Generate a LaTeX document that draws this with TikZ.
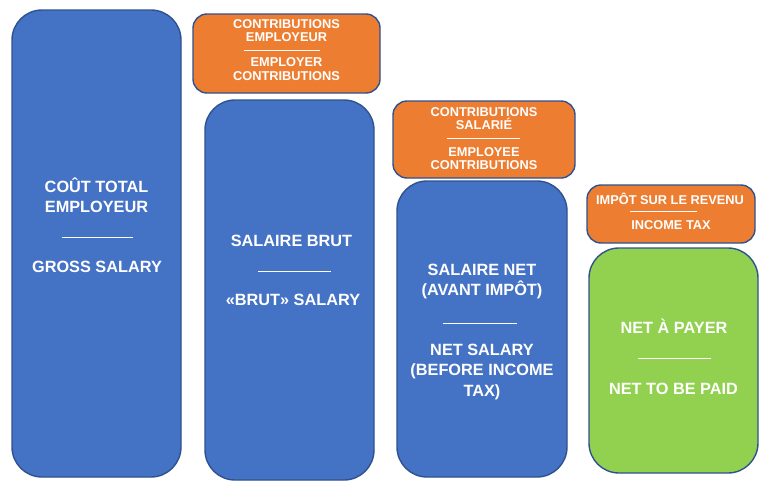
\documentclass[tikz,border=0pt]{standalone}
\usepackage{fontspec}
\setmainfont{Liberation Sans}
\definecolor{boxblue}{HTML}{4472C4}
\definecolor{boxorange}{HTML}{ED7D31}
\definecolor{boxgreen}{HTML}{92D050}
\definecolor{boxedge}{HTML}{2F528F}
\tikzset{
  panel/.style={draw=boxedge, line width=1.4pt, inner sep=0pt, outer sep=0pt},
  bigpanel/.style={panel, rounded corners=30pt},
  smallpanel/.style={panel, fill=boxorange, rounded corners=14pt},
  bigtxt/.style={text=white, font=\fontsize{16.3}{20}\selectfont\bfseries, anchor=base, inner sep=0pt},
  smalltxt/.style={text=white, font=\fontsize{12.8}{14}\selectfont\bfseries, anchor=base, inner sep=0pt},
  sepline/.style={draw=white, line width=1pt}
}
\begin{document}
\begin{tikzpicture}[x=1pt, y=-1pt]
\useasboundingbox (0,0) rectangle (768,498);
% panels
\node[bigpanel, fill=boxblue, minimum width=169pt, minimum height=467pt] (b1) at (96.5,243.5) {};
\node[smallpanel, minimum width=187pt, minimum height=79pt] (o1) at (286.5,53.5) {};
\node[bigpanel, fill=boxblue, minimum width=169pt, minimum height=380pt] (b2) at (289.5,290) {};
\node[smallpanel, minimum width=182pt, minimum height=77pt] (o2) at (484,139.5) {};
\node[bigpanel, fill=boxblue, minimum width=170pt, minimum height=296pt] (b3) at (482,329) {};
\node[smallpanel, minimum width=168pt, minimum height=58pt] (o3) at (671,214) {};
\node[bigpanel, fill=boxgreen, minimum width=169pt, minimum height=225pt] (g) at (673.5,360.5) {};
% box 1
\node[bigtxt] (b1a) at (96.5,192) {COÛT TOTAL};
\node[bigtxt] (b1b) at (96.5,212) {EMPLOYEUR};
\draw[sepline] (62,237) -- (133,237);
\node[bigtxt] (b1c) at (97,272) {GROSS SALARY};
% orange 1
\node[smalltxt] (o1a) at (286.5,28) {CONTRIBUTIONS};
\node[smalltxt] (o1b) at (286.5,41.5) {EMPLOYEUR};
\draw[sepline] (244,50) -- (320,50);
\node[smalltxt] (o1c) at (286.5,66.5) {EMPLOYER};
\node[smalltxt] (o1d) at (286.5,80) {CONTRIBUTIONS};
% box 2
\node[bigtxt] (b2a) at (291.5,246) {SALAIRE BRUT};
\draw[sepline] (258,271) -- (331,271);
\node[bigtxt] (b2b) at (293,305) {«BRUT» SALARY};
% orange 2
\node[smalltxt] (o2a) at (484,116.5) {CONTRIBUTIONS};
\node[smalltxt] (o2b) at (484,129.5) {SALARIÉ};
\draw[sepline] (447,138.5) -- (520,138.5);
\node[smalltxt] (o2c) at (484,156) {EMPLOYEE};
\node[smalltxt] (o2d) at (484,169) {CONTRIBUTIONS};
% box 3
\node[bigtxt] (b3a) at (482,275) {SALAIRE NET};
\node[bigtxt] (b3b) at (482,295) {(AVANT IMPÔT)};
\draw[sepline] (443,323) -- (517,323);
\node[bigtxt] (b3c) at (482,355) {NET SALARY};
\node[bigtxt] (b3d) at (482,375.5) {(BEFORE INCOME};
\node[bigtxt] (b3e) at (482,396) {TAX)};
% orange 3
\node[smalltxt] (o3a) at (670,204) {IMPÔT SUR LE REVENU};
\draw[sepline] (630,211.5) -- (697,211.5);
\node[smalltxt] (o3b) at (671,229) {INCOME TAX};
% green
\node[bigtxt] (ga) at (674,333) {NET À PAYER};
\draw[sepline] (638,358) -- (711,358);
\node[bigtxt] (gb) at (673.5,394) {NET TO BE PAID};
\end{tikzpicture}
\end{document}
